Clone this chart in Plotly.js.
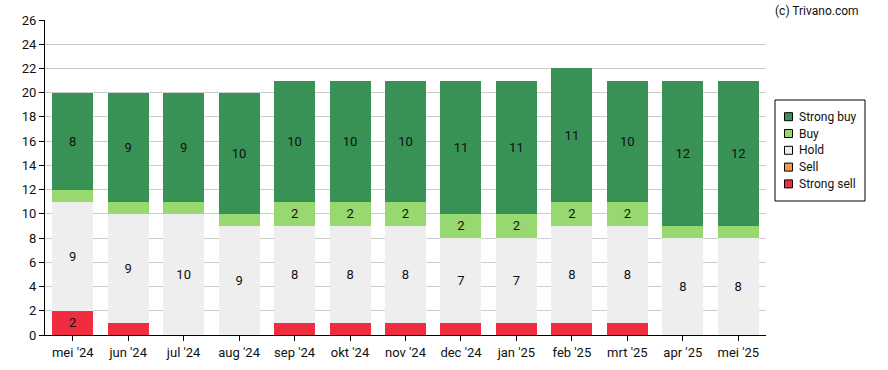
<!DOCTYPE html>
<html><head><meta charset="utf-8">
<script src="https://cdn.plot.ly/plotly-3.0.1.min.js"></script>
<style>html,body{margin:0;padding:0;background:#fff}#chart{width:888px;height:370px}</style>
</head><body><div id="chart"></div>
<script>
const months = ["mei '24","jun '24","jul '24","aug '24","sep '24","okt '24","nov '24","dec '24","jan '25","feb '25","mrt '25","apr '25","mei '25"];
const strongSell = [2,1,0,0,1,1,1,1,1,1,1,0,0];
const sell       = [0,0,0,0,0,0,0,0,0,0,0,0,0];
const hold       = [9,9,10,9,8,8,8,7,7,8,8,8,8];
const buy        = [1,1,1,1,2,2,2,2,2,2,2,1,1];
const strongBuy  = [8,9,9,10,10,10,10,11,11,11,10,12,12];
const seriesNames = ['Strong sell','Sell','Hold','Buy','Strong buy'];
const seriesColors = ['#f02d3e','#f7974e','#eeeeee','#97d870','#389256'];
const yTicks = [0,2,4,6,8,10,12,14,16,18,20,22,24,26];
const seriesVals = [strongSell, sell, hold, buy, strongBuy];

const data = seriesVals.map((vals, i) => ({
  type:'bar', name:seriesNames[i], x:months, y:vals,
  marker:{color:seriesColors[i], line:{width:0}},
  text: vals.map(v => v >= 2 ? String(v) : ''),
  textposition:'inside', insidetextanchor:'middle',
  textfont:{family:'Roboto, sans-serif', size:13, color:'#111'},
  hoverinfo:'skip', showlegend:false
}));

// manual legend (pixel offsets from the plot's top-right corner)
const shapes = [{type:'rect', xref:'paper', yref:'paper', xsizemode:'pixel', ysizemode:'pixel',
  xanchor:1, yanchor:1, x0:9, x1:99, y0:-80, y1:-181, line:{color:'#000', width:1}, fillcolor:'#fff'}];
const annotations = [{text:'(c) Trivano.com', xref:'paper', yref:'paper', x:1, y:1, xshift:7, yshift:0,
  xanchor:'left', yanchor:'bottom', showarrow:false, font:{size:12, color:'#111'}}];
for (let k = 0; k < seriesNames.length; k++) {
  const i = seriesNames.length - 1 - k;
  const cy = -96.7 - k * 16.8;
  shapes.push({type:'rect', xref:'paper', yref:'paper', xsizemode:'pixel', ysizemode:'pixel',
    xanchor:1, yanchor:1, x0:18.5, x1:26.5, y0:cy - 4, y1:cy + 4,
    line:{color:'#000', width:1}, fillcolor:seriesColors[i]});
  annotations.push({text:seriesNames[i], xref:'paper', yref:'paper', x:1, y:1, xshift:31, yshift:cy,
    xanchor:'left', yanchor:'middle', showarrow:false, font:{size:12, color:'#111'}});
}

const layout = {
  width:888, height:370, barmode:'stack', bargap:0.26,
  margin:{l:45, r:122, t:20, b:35},
  paper_bgcolor:'#fff', plot_bgcolor:'#fff',
  font:{family:'Roboto, sans-serif', size:13, color:'#111'},
  xaxis:{showline:true, linecolor:'#000', linewidth:1, ticks:'outside', ticklen:5, tickcolor:'#000',
    showgrid:false, tickfont:{size:13}},
  yaxis:{range:[0,26], tickvals:yTicks, showline:true, linecolor:'#000', linewidth:1,
    ticks:'outside', ticklen:5, tickcolor:'#000', gridcolor:'#cccccc', gridwidth:1, zeroline:false,
    tickfont:{size:13}},
  shapes:shapes, annotations:annotations, showlegend:false
};
Plotly.newPlot('chart', data, layout, {displayModeBar:false, staticPlot:true});
</script></body></html>
